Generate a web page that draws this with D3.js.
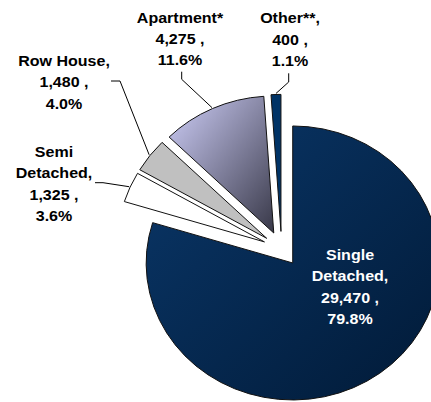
<!DOCTYPE html>
<html>
<head>
<meta charset="utf-8">
<script src="https://cdn.jsdelivr.net/npm/d3@7"></script>
<style>
  html, body { margin: 0; padding: 0; background: #fff; }
  svg { display: block; }
  text { font-family: "Liberation Sans", Arial, sans-serif; font-weight: bold; }
</style>
</head>
<body>
<div id="chart"></div>
<script>
// data
const categories = ["Single Detached", "Semi Detached", "Row House", "Apartment*", "Other**"];
const values = [29470, 1325, 1480, 4275, 400];
const labelNames = [["Single", "Detached,"], ["Semi", "Detached,"], ["Row House,"], ["Apartment*"], ["Other**,"]];

// layout for the hand placed labels (x, first baseline, leader elbow and end)
const labelLayout = [
  { x: 350, y: 260, color: "#fff" },
  { x: 54, y: 157, elbow: [103, 182.7], end: [95, 182.7] },
  { x: 64, y: 66, elbow: [120, 81], end: [111, 81] },
  { x: 180, y: 22.5, elbow: [181.7, 79.3], end: [181.7, 71.7] },
  { x: 290, y: 23.3, elbow: [288.7, 82], end: [288.7, 73.3] }
];

const width = 431, height = 402;
const cx = 281.6, cy = 248.9, r = 137, sx = 1.07, explode = 17.5;
const lineH = 21.3;

const total = d3.sum(values);
const fmtVal = d3.format(",");
const fmtPct = d3.format(".1%");

const svg = d3.select("#chart").append("svg")
  .attr("width", width)
  .attr("height", height);

const defs = svg.append("defs");
const gSingle = defs.append("linearGradient").attr("id", "gSingle")
  .attr("x1", 0).attr("y1", 0).attr("x2", 1).attr("y2", 1);
gSingle.append("stop").attr("offset", "0%").attr("stop-color", "#0a3769");
gSingle.append("stop").attr("offset", "100%").attr("stop-color", "#011a37");
const gApt = defs.append("linearGradient").attr("id", "gApt")
  .attr("x1", 0).attr("y1", 0).attr("x2", 1).attr("y2", 1);
gApt.append("stop").attr("offset", "0%").attr("stop-color", "#cfcff9");
gApt.append("stop").attr("offset", "100%").attr("stop-color", "#383848");

const fills = ["url(#gSingle)", "#ffffff", "#c0c0c0", "url(#gApt)", "#003366"];

const pie = d3.pie().sort(null).value(d => d)(values);
const arc = d3.arc().innerRadius(0).outerRadius(r);

const mid = d => (d.startAngle + d.endAngle) / 2;

const pieG = svg.append("g")
  .attr("transform", `translate(${cx},${cy}) scale(${sx},1)`);

pieG.selectAll("path")
  .data(pie)
  .enter().append("path")
  .attr("d", arc)
  .attr("transform", d => `translate(${explode * Math.sin(mid(d))},${-explode * Math.cos(mid(d))})`)
  .attr("fill", (d, i) => fills[i])
  .attr("stroke", "#111")
  .attr("stroke-width", 1)
  .attr("vector-effect", "non-scaling-stroke")
  .attr("stroke-linejoin", "miter");

// leader lines
pie.forEach((d, i) => {
  const L = labelLayout[i];
  if (!L.elbow) return;
  const a = mid(d);
  const rr = explode + r + 1;
  const px = cx + sx * rr * Math.sin(a);
  const py = cy - rr * Math.cos(a);
  svg.append("polyline")
    .attr("points", [[px, py], L.elbow, L.end].map(p => p.join(",")).join(" "))
    .attr("fill", "none")
    .attr("stroke", "#000")
    .attr("stroke-width", 1);
});

// labels
pie.forEach((d, i) => {
  const L = labelLayout[i];
  const lines = labelNames[i].concat([fmtVal(values[i]) + " ,", fmtPct(values[i] / total)]);
  const t = svg.append("text")
    .attr("transform", `translate(${L.x},${L.y}) scale(${sx},1)`)
    .attr("text-anchor", "middle")
    .attr("font-size", 15)
    .attr("fill", L.color || "#000");
  lines.forEach((s, k) => {
    t.append("tspan").attr("x", 0).attr("y", k * lineH).text(s);
  });
});
</script>
</body>
</html>
